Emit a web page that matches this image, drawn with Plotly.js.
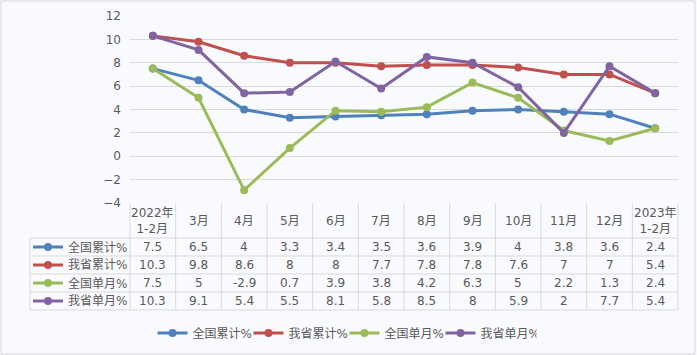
<!DOCTYPE html>
<html>
<head>
<meta charset="utf-8">
<script src="https://cdn.plot.ly/plotly-3.0.1.min.js"></script>
<style>html,body{margin:0;padding:0;background:#f9fafd;}#chart{width:697px;height:355px;}</style>
</head>
<body>
<div id="chart"></div>
<script>
// ---- data ----
const categories = ['2022年1-2月','3月','4月','5月','6月','7月','8月','9月','10月','11月','12月','2023年1-2月'];
const headerLabels = ['2022年<br>1-2月','3月','4月','5月','6月','7月','8月','9月','10月','11月','12月','2023年<br>1-2月'];
const seriesNames = ['全国累计%','我省累计%','全国单月%','我省单月%'];
const nationalCumulative = [7.5, 6.5, 4, 3.3, 3.4, 3.5, 3.6, 3.9, 4, 3.8, 3.6, 2.4];
const provinceCumulative = [10.3, 9.8, 8.6, 8, 8, 7.7, 7.8, 7.8, 7.6, 7, 7, 5.4];
const nationalMonthly = [7.5, 5, -2.9, 0.7, 3.9, 3.8, 4.2, 6.3, 5, 2.2, 1.3, 2.4];
const provinceMonthly = [10.3, 9.1, 5.4, 5.5, 8.1, 5.8, 8.5, 8, 5.9, 2, 7.7, 5.4];
const seriesColors = ['#4f81bd','#c0504d','#9bbb59','#8064a2'];

const seriesValues = [nationalCumulative, provinceCumulative, nationalMonthly, provinceMonthly];

// ---- layout geometry ----
const W = 697, H = 355;
const L = 130, R = 678, T = 16, B = 203;
const px2x = px => (px - L) / (R - L);
const py2y = py => (B - py) / (B - T);
const rowLines = [238, 256, 274, 292, 310];
const tableLeft = 30;
const font = 'DejaVu Sans, Noto Sans CJK SC, sans-serif';
const txtColor = '#595959';
const gridColor = '#d9d9d9';

const traces = seriesValues.map((vals, i) => ({
  type: 'scatter', mode: 'lines+markers',
  x: categories, y: vals, name: seriesNames[i],
  line: {color: seriesColors[i], width: 3},
  marker: {color: seriesColors[i], size: 8},
  hoverinfo: 'x+y+name'
}));

const shapes = [];
const annotations = [];
// table horizontal lines
rowLines.forEach(py => shapes.push({type:'line', xref:'paper', yref:'paper',
  x0: px2x(tableLeft), x1: 1, y0: py2y(py), y1: py2y(py), line:{color:gridColor, width:1}}));
// left column vertical lines
shapes.push({type:'line', xref:'paper', yref:'paper', x0:px2x(tableLeft), x1:px2x(tableLeft),
  y0:py2y(rowLines[0]), y1:py2y(rowLines[rowLines.length-1]), line:{color:gridColor,width:1}});
// category boundaries
const n = categories.length;
for (let i = 0; i <= n; i++) {
  const xp = i / n;
  shapes.push({type:'line', xref:'paper', yref:'paper', x0:xp, x1:xp,
    y0:0, y1:py2y(rowLines[rowLines.length-1]), line:{color:gridColor,width:1}});
}
// header labels
headerLabels.forEach((lab, i) => annotations.push({
  xref:'x', yref:'paper', x:i, y:py2y((B + rowLines[0]) / 2), text:lab, showarrow:false,
  xanchor:'center', yanchor:'middle', font:{family:font, size:12, color:txtColor}
}));
// rows
seriesValues.forEach((vals, r) => {
  const cy = (rowLines[r] + rowLines[r+1]) / 2;
  shapes.push({type:'line', xref:'paper', yref:'paper', x0:px2x(33), x1:px2x(63),
    y0:py2y(cy), y1:py2y(cy), line:{color:seriesColors[r], width:3}});
  shapes.push({type:'circle', xref:'paper', yref:'paper', x0:px2x(44), x1:px2x(52),
    y0:py2y(cy+4), y1:py2y(cy-4), fillcolor:seriesColors[r], line:{color:seriesColors[r], width:0}});
  annotations.push({xref:'paper', yref:'paper', x:px2x(129), y:py2y(cy), text:seriesNames[r],
    showarrow:false, xanchor:'right', yanchor:'middle', font:{family:font, size:12, color:txtColor}});
  vals.forEach((v, i) => annotations.push({xref:'x', yref:'paper', x:i, y:py2y(cy), text:String(v),
    showarrow:false, xanchor:'center', yanchor:'middle', font:{family:font, size:12, color:txtColor}}));
});
// outer border
shapes.push({type:'rect', xref:'paper', yref:'paper', x0:px2x(1), x1:px2x(695), y0:py2y(354), y1:py2y(1),
  line:{color:gridColor, width:1}, fillcolor:'rgba(0,0,0,0)'});

const layout = {
  width: W, height: H,
  margin: {l: L, r: W - R, t: T, b: H - B, pad: 0},
  paper_bgcolor: '#f9fafd', plot_bgcolor: '#f9fafd',
  font: {family: font, size: 12, color: txtColor},
  showlegend: true,
  legend: {orientation:'h', xref:'container', yref:'container', x:0.5 - 4/W, xanchor:'center',
    y: 1 - 333/H, yanchor:'middle', font:{family:font, size:12, color:txtColor},
    itemwidth:30, entrywidth:51, entrywidthmode:'pixels', bgcolor:'rgba(0,0,0,0)', tracegroupgap:0},
  xaxis: {type:'category', range:[-0.5, n-0.5], showticklabels:false, showgrid:false,
    zeroline:false, showline:false, ticks:'', fixedrange:true},
  yaxis: {range:[-4, 12], dtick:2, tick0:0, showgrid:true, gridcolor:gridColor, gridwidth:1,
    zeroline:false, showline:false, ticks:'', ticklabelstandoff:8,
    tickfont:{family:font, size:12, color:txtColor}, fixedrange:true},
  shapes: shapes,
  annotations: annotations
};

Plotly.newPlot('chart', traces, layout, {displayModeBar:false, staticPlot:true});
</script>
</body>
</html>
